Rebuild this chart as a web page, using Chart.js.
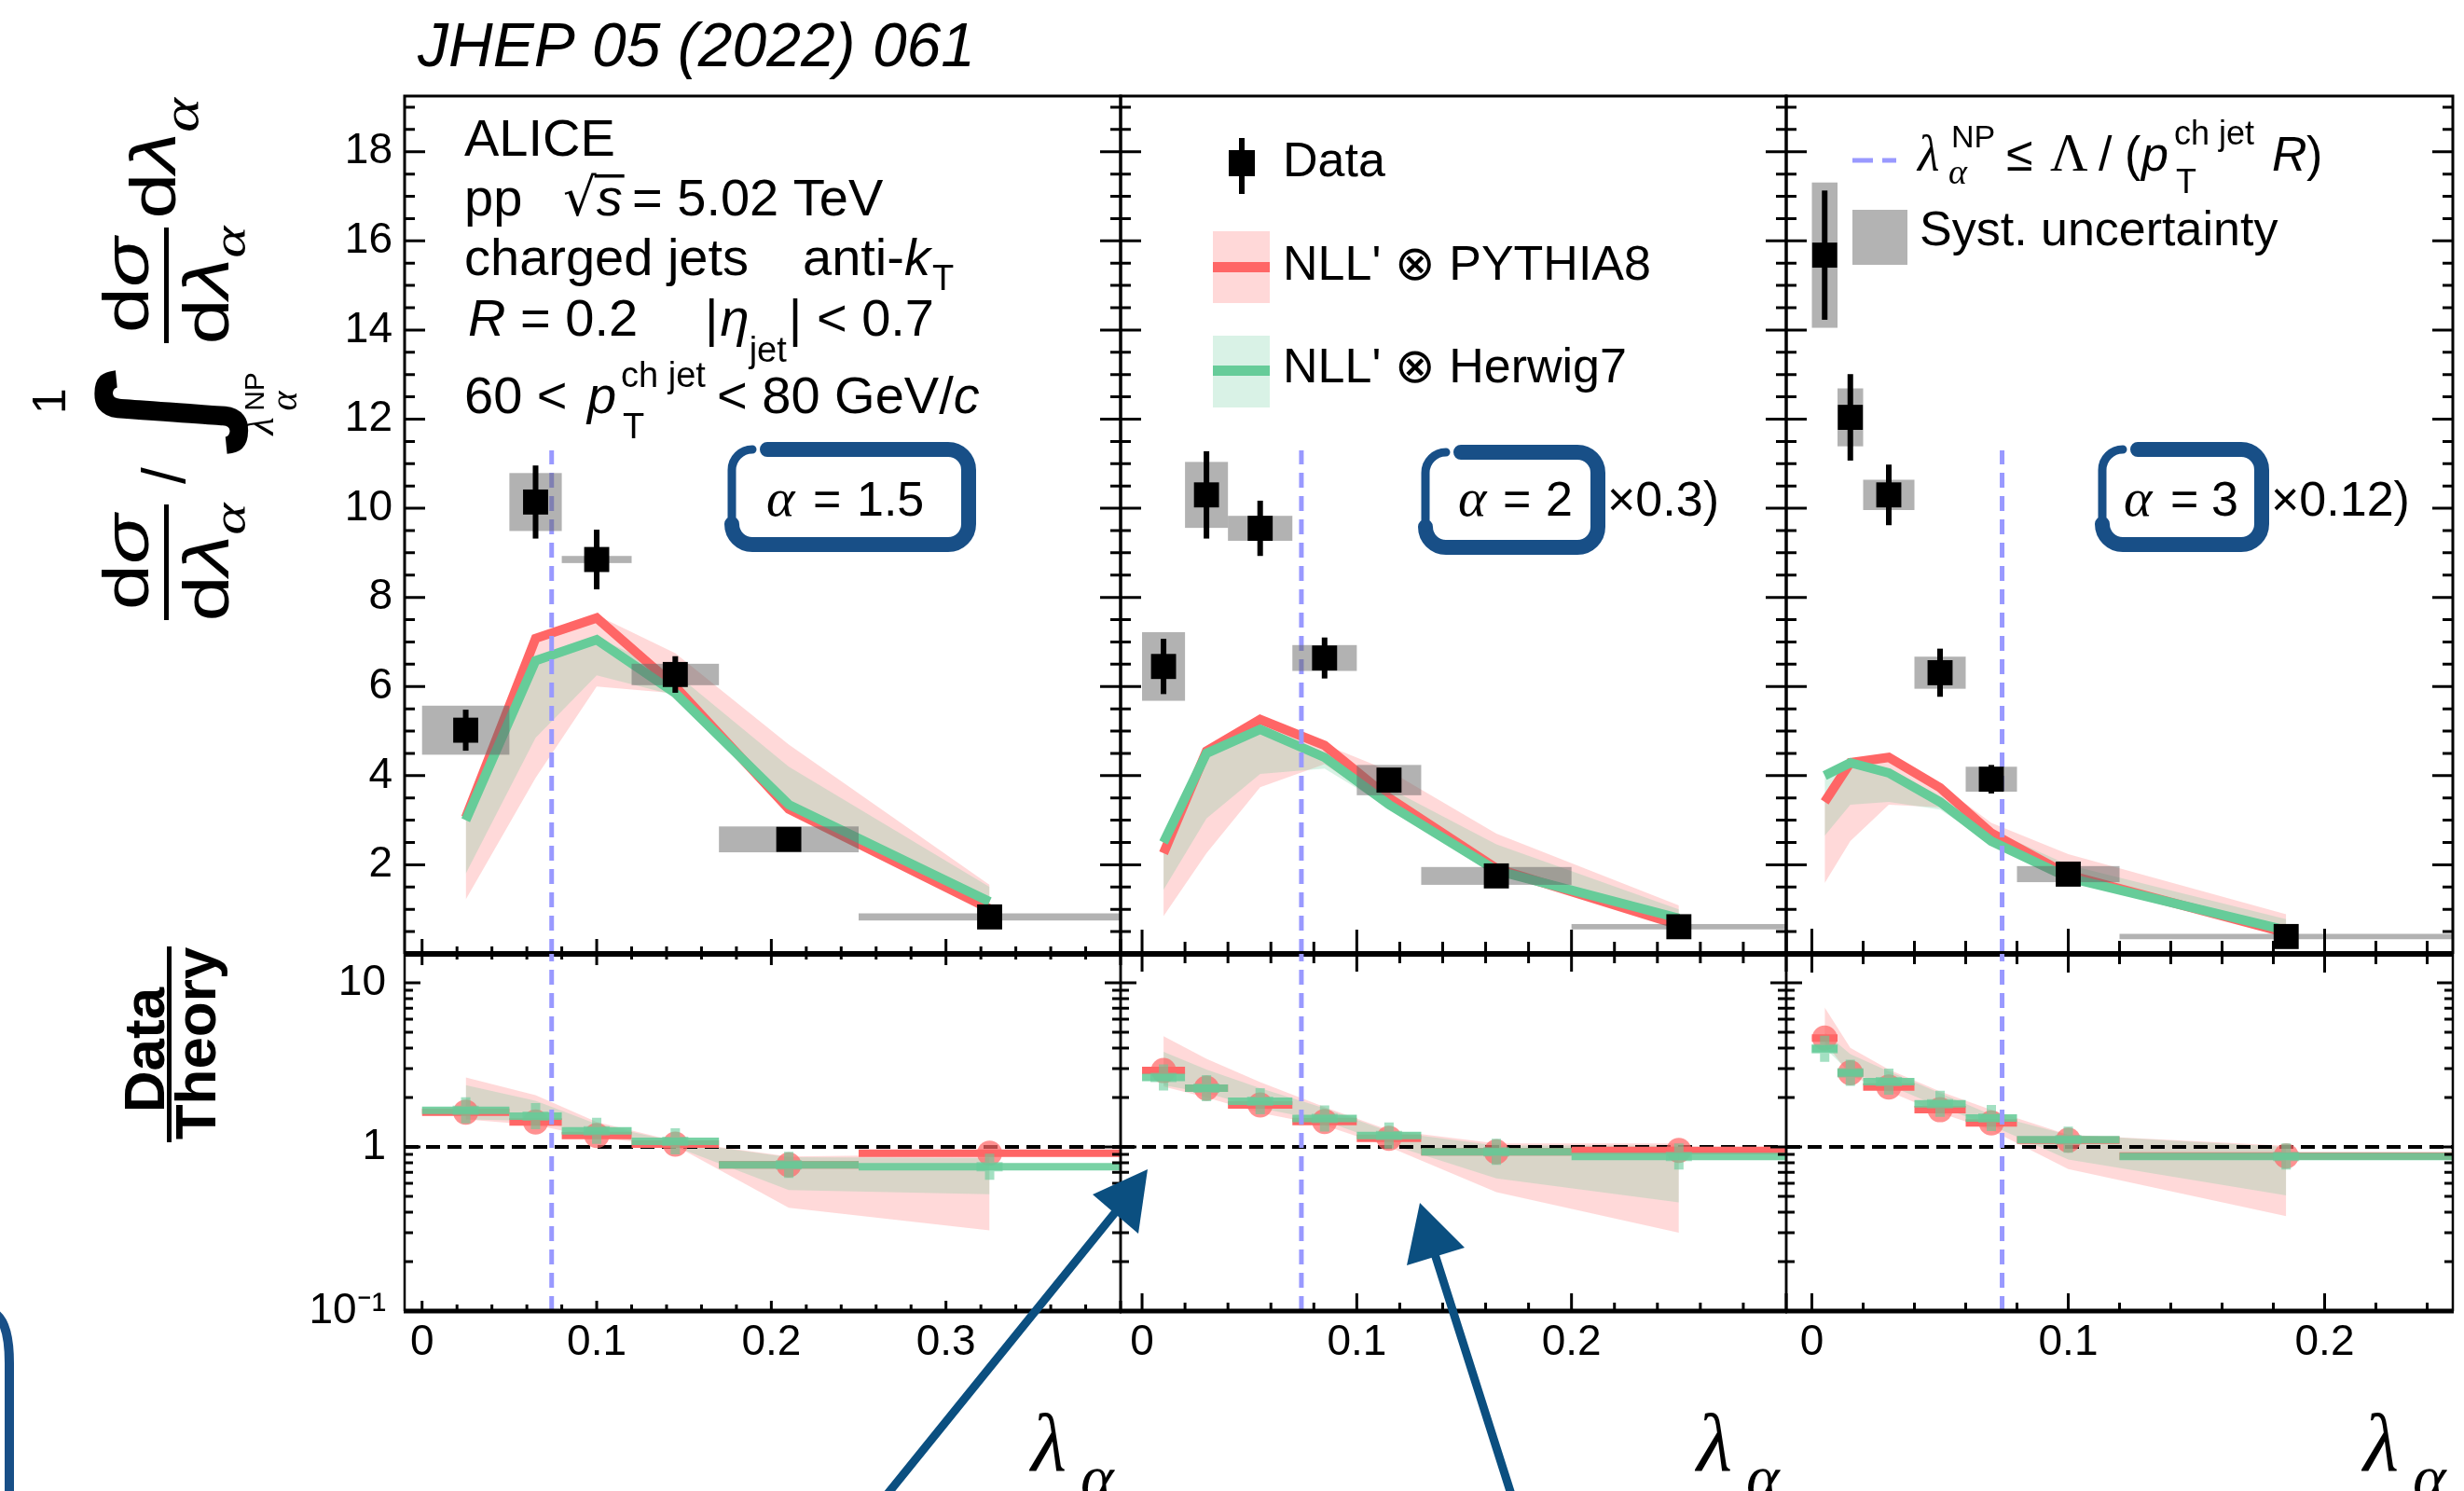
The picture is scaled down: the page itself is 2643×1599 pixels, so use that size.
<!DOCTYPE html>
<html><head><meta charset="utf-8">
<script src="https://cdn.jsdelivr.net/npm/chart.js@4.4.1/dist/chart.umd.min.js"></script>
<style>
html,body{margin:0;padding:0;background:#fff;}
#wrap{position:relative;width:2643px;height:1599px;overflow:hidden;background:#fff;}
#wrap canvas{position:absolute;left:0;top:0;}
</style></head><body><div id="wrap">
<canvas id="c1" width="2643" height="1599"></canvas>
<canvas id="c2" width="2643" height="1599"></canvas>
<canvas id="c3" width="2643" height="1599"></canvas>
<canvas id="c4" width="2643" height="1599"></canvas>
<canvas id="c5" width="2643" height="1599"></canvas>
<canvas id="c6" width="2643" height="1599"></canvas>
</div>
<script>
// ================= DATA =================
// ---- alpha = 1.5 ----
const a15_binLo = [0, 0.05, 0.08, 0.12, 0.17, 0.25];
const a15_binHi = [0.05, 0.08, 0.12, 0.17, 0.25, 0.40];
const a15_x     = [0.025, 0.065, 0.10, 0.145, 0.21, 0.325];
const a15_data  = [5.02, 10.14, 8.85, 6.27, 2.57, 0.83];
const a15_stat  = [0.46, 0.82, 0.67, 0.41, 0.10, 0.05];
const a15_syst  = [0.55, 0.65, 0.08, 0.24, 0.29, 0.08];
const a15_pyth   = [3.06, 7.08, 7.54, 6.00, 3.25, 1.01];
const a15_pythLo = [1.22, 3.95, 6.00, 5.85, 3.20, 1.00];
const a15_pythHi = [3.10, 7.10, 7.60, 6.75, 4.70, 1.55];
const a15_herw   = [3.00, 6.58, 7.05, 5.85, 3.35, 1.17];
const a15_herwLo = [1.80, 4.85, 6.25, 5.80, 3.30, 1.10];
const a15_herwHi = [3.00, 6.60, 7.10, 6.30, 4.20, 1.50];
const a15_rPyth   = [1.63, 1.42, 1.175, 1.04, 0.777, 0.915];
const a15_rHerw   = [1.67, 1.54, 1.254, 1.081, 0.777, 0.757];
const a15_rPythLo = [1.47, 1.36, 1.135, 1.017, 0.426, 0.31];
const a15_rPythHi = [2.65, 2.07, 1.42, 1.086, 0.874, 0.905];
const a15_rHerwLo = [1.47, 1.44, 1.185, 1.004, 0.546, 0.514];
const a15_rHerwHi = [2.38, 1.91, 1.38, 1.077, 0.866, 0.855];

// ---- alpha = 2 (x0.3) ----
const a2_binLo = [0, 0.02, 0.04, 0.07, 0.10, 0.13, 0.20];
const a2_binHi = [0.02, 0.04, 0.07, 0.10, 0.13, 0.20, 0.30];
const a2_x     = [0.01, 0.03, 0.055, 0.085, 0.115, 0.165, 0.25];
const a2_data  = [6.45, 10.30, 9.55, 6.64, 3.90, 1.75, 0.61];
const a2_stat  = [0.62, 0.98, 0.62, 0.46, 0.20, 0.10, 0.05];
const a2_syst  = [0.77, 0.74, 0.28, 0.29, 0.34, 0.20, 0.06];
const a2_pyth   = [2.26, 4.55, 5.26, 4.68, 3.50, 1.92, 0.65];
const a2_pythLo = [0.85, 2.26, 3.74, 4.26, 3.30, 1.80, 0.65];
const a2_pythHi = [2.26, 4.55, 5.33, 4.70, 4.11, 2.70, 1.09];
const a2_herw   = [2.50, 4.50, 5.04, 4.41, 3.35, 1.87, 0.80];
const a2_herwLo = [1.44, 3.04, 4.04, 4.16, 3.28, 1.80, 0.70];
const a2_herwHi = [2.50, 4.50, 5.04, 4.41, 3.72, 2.46, 1.00];
const a2_rPyth   = [2.92, 2.28, 1.80, 1.43, 1.13, 0.933, 0.953];
const a2_rHerw   = [2.65, 2.28, 1.90, 1.49, 1.175, 0.933, 0.874];
const a2_rPythLo = [2.33, 2.00, 1.61, 1.35, 1.00, 0.53, 0.30];
const a2_rPythHi = [4.73, 3.44, 2.48, 1.75, 1.265, 1.049, 1.049];
const a2_rHerwLo = [2.38, 2.13, 1.72, 1.44, 1.04, 0.644, 0.459];
const a2_rHerwHi = [3.80, 2.96, 2.28, 1.72, 1.24, 1.02, 1.02];

// ---- alpha = 3 (x0.12) ----
const a3_binLo = [0, 0.01, 0.02, 0.04, 0.06, 0.08, 0.12];
const a3_binHi = [0.01, 0.02, 0.04, 0.06, 0.08, 0.12, 0.25];
const a3_x     = [0.005, 0.015, 0.03, 0.05, 0.07, 0.10, 0.185];
const a3_data  = [15.68, 12.04, 10.30, 6.31, 3.92, 1.79, 0.39];
const a3_stat  = [1.45, 0.97, 0.68, 0.54, 0.32, 0.10, 0.05];
const a3_syst  = [1.63, 0.65, 0.34, 0.36, 0.28, 0.18, 0.06];
const a3_pyth   = [3.41, 4.29, 4.41, 3.73, 2.71, 1.77, 0.47];
const a3_pythLo = [1.59, 2.53, 3.35, 3.29, 2.48, 1.66, 0.42];
const a3_pythHi = [3.45, 4.33, 4.47, 3.80, 2.94, 2.24, 0.89];
const a3_herw   = [4.00, 4.29, 4.06, 3.41, 2.53, 1.71, 0.53];
const a3_herwLo = [2.65, 3.35, 3.41, 3.24, 2.48, 1.69, 0.47];
const a3_herwHi = [4.00, 4.29, 4.06, 3.44, 2.77, 2.00, 0.78];
const a3_rPyth   = [4.61, 2.83, 2.32, 1.685, 1.40, 1.10, 0.88];
const a3_rHerw   = [3.96, 2.83, 2.50, 1.83, 1.50, 1.105, 0.874];
const a3_rPythLo = [4.37, 2.71, 2.18, 1.61, 1.265, 0.734, 0.379];
const a3_rPythHi = [7.06, 4.01, 2.96, 2.18, 1.68, 1.185, 1.017];
const a3_rHerwLo = [4.01, 2.83, 2.38, 1.75, 1.35, 0.837, 0.507];
const a3_rHerwHi = [4.98, 3.67, 2.89, 2.13, 1.57, 1.185, 1.00];

// NP boundary lambda_alpha^NP and its drawn height
const NP_CUT = [0.0742, 0.0742, 0.0742];
const NP_TOP = 11.3;

// axis ranges and tick labels
const X_RANGE_A15 = [-0.01, 0.40];
const X_RANGE_A2  = [-0.01, 0.30];
const X_RANGE_A3  = [-0.01, 0.25];
const X_TICKS_A15 = [0, 0.1, 0.2, 0.3];
const X_TICKS_A2  = [0, 0.1, 0.2];
const X_TICKS_A3  = [0, 0.1, 0.2];
const Y_RANGE_TOP = [0, 19.25];
const Y_TICKS_TOP = [2, 4, 6, 8, 10, 12, 14, 16, 18];
const Y_RANGE_RATIO = [0.1, 15];
const RATIO_TICKS = [0.1, 1, 10];
const RATIO_TICK_LABELS = ['10\u207B\u00B9', '1', '10'];

// ================= STYLE / LAYOUT =================
const W = 2643, H = 1599;
const TOPY = {t:103, b:1023}, RATY = {t:1023, b:1406};
const Y_AXIS_W = 200, X_AXIS_H = 100;
const RED = '#ff6666', GREEN = '#66cc99';
const PINK_BAND = 'rgba(255,102,102,0.25)', GREEN_BAND = 'rgba(102,204,153,0.25)';
const SYST = 'rgba(102,102,102,0.5)';
const NPBLUE = '#9999ff';
const BOXBLUE = '#184f87', ARROWBLUE = '#0b4f80';
const SANS = '"Liberation Sans", Arial, Helvetica, sans-serif';
const SERIF = '"Liberation Serif", "Times New Roman", serif';
function F(size, style){ return (style ? style + ' ' : '') + size + 'px ' + SANS; }
function FS(size, style){ return (style ? style + ' ' : '') + size + 'px ' + SERIF; }

const PANELS = [
  {area:[434,1202], xr:X_RANGE_A15, xTicks:X_TICKS_A15, topXb:[16,8], ratXt:[12,6], ratXb:[11,7],
   d:{lo:a15_binLo, hi:a15_binHi, x:a15_x, data:a15_data, stat:a15_stat, syst:a15_syst,
      pyth:a15_pyth, pythLo:a15_pythLo, pythHi:a15_pythHi, herw:a15_herw, herwLo:a15_herwLo, herwHi:a15_herwHi,
      rPyth:a15_rPyth, rHerw:a15_rHerw, rPythLo:a15_rPythLo, rPythHi:a15_rPythHi, rHerwLo:a15_rHerwLo, rHerwHi:a15_rHerwHi}},
  {area:[1202,1916], xr:X_RANGE_A2, xTicks:X_TICKS_A2, topXb:[26,13], ratXt:[19,10], ratXb:[19,9],
   d:{lo:a2_binLo, hi:a2_binHi, x:a2_x, data:a2_data, stat:a2_stat, syst:a2_syst,
      pyth:a2_pyth, pythLo:a2_pythLo, pythHi:a2_pythHi, herw:a2_herw, herwLo:a2_herwLo, herwHi:a2_herwHi,
      rPyth:a2_rPyth, rHerw:a2_rHerw, rPythLo:a2_rPythLo, rPythHi:a2_rPythHi, rHerwLo:a2_rHerwLo, rHerwHi:a2_rHerwHi}},
  {area:[1916,2631], xr:X_RANGE_A3, xTicks:X_TICKS_A3, topXb:[27,14], ratXt:[20,11], ratXb:[19,9],
   d:{lo:a3_binLo, hi:a3_binHi, x:a3_x, data:a3_data, stat:a3_stat, syst:a3_syst,
      pyth:a3_pyth, pythLo:a3_pythLo, pythHi:a3_pythHi, herw:a3_herw, herwLo:a3_herwLo, herwHi:a3_herwHi,
      rPyth:a3_rPyth, rHerw:a3_rHerw, rPythLo:a3_rPythLo, rPythHi:a3_rPythHi, rHerwLo:a3_rHerwLo, rHerwHi:a3_rHerwHi}}
];

Chart.defaults.font.family = SANS;

function pts(xs, ys){ return xs.map((x,k)=>({x:x, y:ys[k]})); }
function barPts(lo, hi, v){ const o=[]; lo.forEach((l,k)=>{ o.push({x:l,y:v[k]},{x:hi[k],y:v[k]},{x:hi[k],y:null}); }); return o; }
const NOLINE = 'rgba(0,0,0,0)';

function xScale(P, show){
  return {type:'linear', min:P.xr[0], max:P.xr[1], display:show, position:'bottom',
    grid:{display:false, drawTicks:false}, border:{display:false},
    ticks:{autoSkip:false, maxRotation:0, minRotation:0, padding:7, color:'#000', font:{family:SANS, size:46},
      callback:(v)=> (v===0 ? '0' : (+v).toFixed(1))},
    afterBuildTicks:(s)=>{ s.ticks = P.xTicks.map(v=>({value:v})); },
    afterFit:(s)=>{ s.height = show ? X_AXIS_H : 0; }};
}
function yTop(show){
  return {type:'linear', min:Y_RANGE_TOP[0], max:Y_RANGE_TOP[1], display:show, position:'left',
    grid:{display:false, drawTicks:false}, border:{display:false},
    ticks:{autoSkip:false, padding:13, color:'#000', font:{family:SANS, size:46}, callback:(v)=>String(v)},
    afterBuildTicks:(s)=>{ s.ticks = Y_TICKS_TOP.map(v=>({value:v})); },
    afterFit:(s)=>{ s.width = show ? Y_AXIS_W : 0; }};
}
function yRatio(show){
  return {type:'logarithmic', min:Y_RANGE_RATIO[0], max:Y_RANGE_RATIO[1], display:show, position:'left',
    grid:{display:false, drawTicks:false}, border:{display:false},
    ticks:{autoSkip:false, padding:20, color:'#000', font:{family:SANS, size:46},
      callback:(v)=>{ const i = RATIO_TICKS.indexOf(v); return i>=0 ? RATIO_TICK_LABELS[i] : ''; }},
    afterBuildTicks:(s)=>{ s.ticks = RATIO_TICKS.map(v=>({value:v})); },
    afterFit:(s)=>{ s.width = show ? Y_AXIS_W : 0; }};
}

function seq(from, to, step, skipEvery){
  const o=[]; for(let k=0; from + k*step <= to + 1e-9; k++){ if(skipEvery && k%skipEvery===0) continue; o.push(+(from+k*step).toFixed(6)); } return o;
}

function decorPlugin(kind, P, idx){
  return {
    id:'decor',
    beforeDatasetDraw(chart, args){
      const ds = chart.data.datasets[args.index];
      if (ds._role !== 'data') return;
      const ctx = chart.ctx, xs = chart.scales.x, ys = chart.scales.y, a = chart.chartArea, d = P.d;
      ctx.save();
      ctx.beginPath(); ctx.rect(a.left, a.top, a.right-a.left, a.bottom-a.top); ctx.clip();
      ctx.fillStyle = SYST;
      d.x.forEach((x,k)=>{
        const x0 = xs.getPixelForValue(d.lo[k]), x1 = xs.getPixelForValue(d.hi[k]);
        const y0 = ys.getPixelForValue(d.data[k]+d.syst[k]), y1 = ys.getPixelForValue(d.data[k]-d.syst[k]);
        ctx.fillRect(x0, y0, x1-x0, y1-y0);
      });
      ctx.fillStyle = '#000';
      d.x.forEach((x,k)=>{
        const px = xs.getPixelForValue(x);
        const y0 = ys.getPixelForValue(d.data[k]+d.stat[k]), y1 = ys.getPixelForValue(d.data[k]-d.stat[k]);
        ctx.fillRect(px-3, y0, 6, y1-y0);
      });
      ctx.restore();
    },
    afterDraw(chart){
      const ctx = chart.ctx, xs = chart.scales.x, ys = chart.scales.y, a = chart.chartArea;
      ctx.save(); ctx.strokeStyle='#000'; ctx.lineCap='butt';
      ctx.lineWidth = 3;
      ctx.beginPath();
      const xmax = P.xr[1];
      const xMaj = seq(0, xmax, 0.1), xMin = seq(0, xmax, 0.02, 5);
      if (kind==='top'){
        const yMaj = seq(0, 18, 2), yMin = seq(0, 19.2, 0.5, 4);
        for (const v of yMaj){ const p=ys.getPixelForValue(v); ctx.moveTo(a.left,p); ctx.lineTo(a.left+22,p); ctx.moveTo(a.right,p); ctx.lineTo(a.right-22,p); }
        for (const v of yMin){ const p=ys.getPixelForValue(v); ctx.moveTo(a.left,p); ctx.lineTo(a.left+11,p); ctx.moveTo(a.right,p); ctx.lineTo(a.right-11,p); }
        for (const v of xMaj){ const p=xs.getPixelForValue(v); ctx.moveTo(p,a.bottom); ctx.lineTo(p,a.bottom-P.topXb[0]); }
        for (const v of xMin){ const p=xs.getPixelForValue(v); ctx.moveTo(p,a.bottom); ctx.lineTo(p,a.bottom-P.topXb[1]); }
      } else {
        const yMaj = [0.1, 1, 10], yMin = [0.2,0.3,0.4,0.5,0.6,0.7,0.8,0.9,2,3,4,5,6,7,8,9];
        for (const v of yMaj){ const p=ys.getPixelForValue(v); ctx.moveTo(a.left,p); ctx.lineTo(a.left+17,p); ctx.moveTo(a.right,p); ctx.lineTo(a.right-17,p); }
        for (const v of yMin){ const p=ys.getPixelForValue(v); ctx.moveTo(a.left,p); ctx.lineTo(a.left+9,p); ctx.moveTo(a.right,p); ctx.lineTo(a.right-9,p); }
        for (const v of xMaj){ const p=xs.getPixelForValue(v); ctx.moveTo(p,a.bottom); ctx.lineTo(p,a.bottom-P.ratXb[0]); ctx.moveTo(p,a.top); ctx.lineTo(p,a.top+P.ratXt[0]); }
        for (const v of xMin){ const p=xs.getPixelForValue(v); ctx.moveTo(p,a.bottom); ctx.lineTo(p,a.bottom-P.ratXb[1]); ctx.moveTo(p,a.top); ctx.lineTo(p,a.top+P.ratXt[1]); }
      }
      ctx.stroke();
      // frame
      if (kind==='top'){
        ctx.lineWidth = 3; ctx.beginPath();
        ctx.moveTo(a.left, a.bottom); ctx.lineTo(a.left, a.top); ctx.lineTo(a.right, a.top); ctx.lineTo(a.right, a.bottom); ctx.stroke();
        ctx.lineWidth = 6; ctx.beginPath(); ctx.moveTo(a.left-1, a.bottom); ctx.lineTo(a.right+1, a.bottom); ctx.stroke();
      } else {
        ctx.lineWidth = 2.5; ctx.beginPath();
        ctx.moveTo(a.left, a.top); ctx.lineTo(a.left, a.bottom); ctx.moveTo(a.right, a.top); ctx.lineTo(a.right, a.bottom); ctx.stroke();
        ctx.lineWidth = 5; ctx.beginPath(); ctx.moveTo(a.left-1, a.bottom); ctx.lineTo(a.right+1, a.bottom); ctx.stroke();
      }
      ctx.restore();
    }
  };
}

function baseOptions(P, yr, scales, showX, showY){
  return {responsive:false, maintainAspectRatio:false, animation:false, devicePixelRatio:1, events:[],
    layout:{autoPadding:false, padding:{left:P.area[0] - (showY ? Y_AXIS_W : 0), right:W-P.area[1], top:yr.t, bottom:H-yr.b-(showX ? X_AXIS_H : 0)}},
    plugins:{legend:{display:false}, tooltip:{enabled:false}, title:{display:false}},
    elements:{line:{tension:0, borderJoinStyle:'miter', borderCapStyle:'butt'}},
    scales:scales};
}

function topChart(id, P, idx, extraPlugins){
  const d = P.d;
  const datasets = [
    {data:pts(d.x,d.pythHi), fill:'+1', backgroundColor:PINK_BAND, borderColor:NOLINE, borderWidth:0, pointRadius:0, order:20},
    {data:pts(d.x,d.pythLo), fill:false, borderColor:NOLINE, borderWidth:0, pointRadius:0, order:20},
    {data:pts(d.x,d.herwHi), fill:'+1', backgroundColor:GREEN_BAND, borderColor:NOLINE, borderWidth:0, pointRadius:0, order:19},
    {data:pts(d.x,d.herwLo), fill:false, borderColor:NOLINE, borderWidth:0, pointRadius:0, order:19},
    {data:pts(d.x,d.pyth), fill:false, borderColor:RED, borderWidth:10, pointRadius:0, order:10},
    {data:pts(d.x,d.herw), fill:false, borderColor:GREEN, borderWidth:10, pointRadius:0, order:9},
    {data:[{x:NP_CUT[idx],y:0},{x:NP_CUT[idx],y:NP_TOP}], fill:false, borderColor:NPBLUE, borderWidth:5, borderDash:[16,9], pointRadius:0, order:8},
    {_role:'data', data:pts(d.x,d.data), showLine:false, pointStyle:'rect', pointRadius:19, backgroundColor:'#000', borderColor:'#000', borderWidth:0, order:1}
  ];
  const showY = idx===0;
  return new Chart(document.getElementById(id), {type:'line', data:{datasets},
    options: baseOptions(P, TOPY, {x:xScale(P,false), y:yTop(showY)}, false, showY),
    plugins:[decorPlugin('top', P, idx)].concat(extraPlugins||[])});
}

function ratioChart(id, P, idx, extraPlugins){
  const d = P.d;
  const datasets = [
    {data:pts(d.x,d.rPythHi), fill:'+1', backgroundColor:PINK_BAND, borderColor:NOLINE, borderWidth:0, pointRadius:0, order:20},
    {data:pts(d.x,d.rPythLo), fill:false, borderColor:NOLINE, borderWidth:0, pointRadius:0, order:20},
    {data:pts(d.x,d.rHerwHi), fill:'+1', backgroundColor:GREEN_BAND, borderColor:NOLINE, borderWidth:0, pointRadius:0, order:19},
    {data:pts(d.x,d.rHerwLo), fill:false, borderColor:NOLINE, borderWidth:0, pointRadius:0, order:19},
    {data:[{x:P.xr[0],y:1},{x:P.xr[1],y:1}], fill:false, borderColor:'#000', borderWidth:4, borderDash:[15,8], pointRadius:0, order:15},
    {data:barPts(d.lo,d.hi,d.rPyth), fill:false, borderColor:RED, borderWidth:8, pointRadius:0, spanGaps:false, order:12},
    {data:pts(d.x,d.rPyth), showLine:false, pointStyle:'circle', pointRadius:13.5, backgroundColor:'rgba(255,102,102,0.72)', borderWidth:0, order:11},
    {data:barPts(d.lo,d.hi,d.rHerw), fill:false, borderColor:'rgba(102,204,153,0.88)', borderWidth:8, pointRadius:0, spanGaps:false, order:10},
    {data:pts(d.x,d.rHerw), showLine:false, pointStyle:'cross', pointRadius:14, borderColor:'rgba(102,204,153,0.6)', borderWidth:10, order:9},
    {data:[{x:NP_CUT[idx],y:Y_RANGE_RATIO[0]},{x:NP_CUT[idx],y:Y_RANGE_RATIO[1]}], fill:false, borderColor:NPBLUE, borderWidth:5, borderDash:[16,9], pointRadius:0, order:8}
  ];
  const showY = idx===0;
  return new Chart(document.getElementById(id), {type:'line', data:{datasets},
    options: baseOptions(P, RATY, {x:xScale(P,true), y:yRatio(showY)}, true, showY),
    plugins:[decorPlugin('ratio', P, idx)].concat(extraPlugins||[])});
}

// ================= ANNOTATIONS =================
function txt(ctx, t, font, x, y, align){ ctx.font=font; ctx.textAlign=align||'left'; ctx.textBaseline='alphabetic'; ctx.fillText(t,x,y); return x + ctx.measureText(t).width; }
function rotRuns(ctx, runs, bx, cy, sx){
  sx = sx || 1;
  let total=0; for (const r of runs){ ctx.font=r.f; r._w = ctx.measureText(r.t).width*sx; total += r._w; }
  let y = cy + total/2;
  for (const r of runs){ ctx.save(); ctx.translate(bx + (r.dy||0), y); ctx.rotate(-Math.PI/2); ctx.scale(sx,1); ctx.font=r.f; ctx.textAlign='left'; ctx.textBaseline='alphabetic'; ctx.fillText(r.t,0,0); ctx.restore(); y -= r._w; }
}
function handBox(ctx, x, y, w, h){
  const r = 22;
  ctx.save(); ctx.strokeStyle = BOXBLUE; ctx.lineCap='round'; ctx.lineJoin='round';
  ctx.lineWidth = 16; ctx.beginPath();
  ctx.moveTo(x+38, y); ctx.lineTo(x+w-r, y); ctx.arcTo(x+w, y, x+w, y+r, r);
  ctx.lineTo(x+w, y+h-r); ctx.arcTo(x+w, y+h, x+w-r, y+h, r);
  ctx.lineTo(x+r, y+h); ctx.arcTo(x, y+h, x, y+h-r, r); ctx.stroke();
  ctx.lineWidth = 9; ctx.beginPath(); ctx.moveTo(x, y+h-r); ctx.lineTo(x, y+r); ctx.arcTo(x, y, x+r, y, r); ctx.stroke();
  ctx.restore();
}

const annotations = {
  id:'annotations',
  afterDraw(chart){
    const ctx = chart.ctx;
    ctx.save(); ctx.fillStyle='#000';
    // journal reference
    txt(ctx, 'JHEP 05 (2022) 061', F(66,'italic'), 448, 71);

    // ALICE label block
    txt(ctx, 'ALICE', F(56), 498, 167);
    txt(ctx, 'pp', F(56), 498, 231);
    let xa = txt(ctx, '\u221A', '56px "DejaVu Sans", sans-serif', 604, 231);
    let xb = txt(ctx, 's', F(56,'italic'), xa, 231);
    ctx.fillRect(xa-2, 187, xb-xa+4, 3.5);
    txt(ctx, '= 5.02 TeV', F(56), 678, 231);
    txt(ctx, 'charged jets', F(56), 498, 295);
    let xc = txt(ctx, 'anti-', F(56), 861, 295);
    xc = txt(ctx, 'k', F(56,'italic'), xc, 295);
    txt(ctx, 'T', F(38), xc+2, 311);
    let xr = txt(ctx, 'R', F(56,'italic'), 502, 360);
    txt(ctx, ' = 0.2', F(56), xr, 360);
    let xe = txt(ctx, '|', F(56), 756, 360);
    xe = txt(ctx, '\u03B7', F(56,'italic'), xe+2, 360);
    xe = txt(ctx, 'jet', F(38), xe, 388);
    txt(ctx, '| < 0.7', F(56), xe+2, 360);
    txt(ctx, '60 <', F(56), 498, 443);
    txt(ctx, 'p', F(56,'italic'), 630, 443);
    txt(ctx, 'ch jet', F(38), 666, 415);
    txt(ctx, 'T', F(38), 668, 470);
    let xg = txt(ctx, '< 80 GeV/', F(56), 769, 443);
    txt(ctx, 'c', F(56,'italic'), xg, 443);

    // legend (middle panel)
    ctx.fillStyle='#000'; ctx.fillRect(1318, 161, 28, 28); ctx.fillRect(1329, 148, 6, 60);
    txt(ctx, 'Data', F(52), 1376, 189);
    ctx.fillStyle='rgb(255,216,216)'; ctx.fillRect(1301, 248, 61, 77);
    ctx.fillStyle=RED; ctx.fillRect(1301, 281, 61, 11);
    ctx.fillStyle='#000'; txt(ctx, 'NLL\' \u2297 PYTHIA8', F(52), 1376, 300);
    ctx.fillStyle='rgb(217,242,230)'; ctx.fillRect(1301, 360, 61, 77);
    ctx.fillStyle=GREEN; ctx.fillRect(1301, 392, 61, 11);
    ctx.fillStyle='#000'; txt(ctx, 'NLL\' \u2297 Herwig7', F(52), 1376, 410);

    // legend (right panel)
    ctx.save(); ctx.strokeStyle=NPBLUE; ctx.lineWidth=5; ctx.setLineDash([22,10]);
    ctx.beginPath(); ctx.moveTo(1987,172); ctx.lineTo(2034,172); ctx.stroke(); ctx.restore();
    txt(ctx, '\u03BB', FS(54,'italic'), 2057, 183);
    txt(ctx, '\u03B1', FS(38,'italic'), 2090, 197);
    txt(ctx, 'NP', F(34), 2093, 158);
    txt(ctx, '\u2264', F(52), 2152, 183);
    txt(ctx, '\u039B', FS(56), 2199, 183);
    txt(ctx, '/', F(52), 2251, 183);
    txt(ctx, '(', F(52), 2279, 183);
    txt(ctx, 'p', F(52,'italic'), 2297, 183);
    txt(ctx, 'ch jet', F(36), 2332, 155);
    txt(ctx, 'T', F(36), 2334, 207);
    txt(ctx, 'R', F(52,'italic'), 2437, 183);
    txt(ctx, ')', F(52), 2474, 183);
    ctx.fillStyle='rgb(179,179,179)'; ctx.fillRect(1987, 225, 59, 59);
    ctx.fillStyle='#000'; txt(ctx, 'Syst. uncertainty', F(52), 2059, 263);

    // alpha labels
    txt(ctx, '\u03B1', FS(58,'italic'), 822, 553); txt(ctx, '=', F(52), 872, 553); txt(ctx, '1.5', F(52), 919, 553);
    txt(ctx, '\u03B1', FS(58,'italic'), 1564, 553); txt(ctx, '=', F(52), 1612, 553); txt(ctx, '2', F(52), 1658, 553);
    txt(ctx, '\u00D70.3)', F(52), 1724, 553);
    txt(ctx, '\u03B1', FS(58,'italic'), 2278, 553); txt(ctx, '=', F(52), 2328, 553); txt(ctx, '3', F(52), 2372, 553);
    txt(ctx, '\u00D70.12)', F(52), 2436, 553);

    // x-axis titles
    for (const R of [1202, 1916, 2631]){
      txt(ctx, '\u03BB', FS(88,'italic'), R-96, 1577);
      txt(ctx, '\u03B1', FS(68,'italic'), R-43, 1607);
    }

    // y-axis title of upper pads
    const SX = 1.3;
    const frac = (cy)=>{
      rotRuns(ctx, [{t:'d', f:F(68)}, {t:'\u03C3', f:F(68,'italic')}], 159, cy, SX);
      ctx.fillRect(176, cy-62, 5, 124);
      rotRuns(ctx, [{t:'d', f:F(68)}, {t:'\u03BB', f:F(68,'italic')}, {t:'\u03B1', f:FS(50,'italic'), dy:18}], 245, cy, SX);
    };
    frac(603);
    rotRuns(ctx, [{t:'/', f:F(64)}], 198, 510);
    rotRuns(ctx, [{t:'\u222B', f:'bold 168px "DejaVu Sans", sans-serif'}], 228, 438);
    rotRuns(ctx, [{t:'1', f:F(50)}], 70, 430);
    rotRuns(ctx, [{t:'\u03BB', f:FS(44,'italic')}], 293, 457);
    rotRuns(ctx, [{t:'\u03B1', f:FS(40,'italic')}], 318, 430);
    rotRuns(ctx, [{t:'NP', f:F(30)}], 283, 420);
    frac(306);
    rotRuns(ctx, [{t:'d', f:F(68)}, {t:'\u03BB', f:F(68,'italic')}, {t:'\u03B1', f:FS(54,'italic'), dy:24}], 188, 170, SX);

    // y-axis title of ratio pads
    rotRuns(ctx, [{t:'Data', f:F(62,'bold')}], 176, 1126);
    ctx.fillRect(179, 1015, 5, 210);
    rotRuns(ctx, [{t:'Theory', f:F(62,'bold')}], 231, 1119);

    // hand-drawn annotations
    handBox(ctx, 785, 482, 254, 102);
    handBox(ctx, 1529, 485, 185, 102);
    handBox(ctx, 2255, 482, 171, 102);
    ctx.strokeStyle = ARROWBLUE; ctx.fillStyle = ARROWBLUE; ctx.lineCap='round';
    ctx.lineWidth = 9;
    ctx.beginPath(); ctx.moveTo(944, 1612); ctx.lineTo(1198, 1298); ctx.stroke();
    ctx.beginPath(); ctx.moveTo(1231, 1254); ctx.lineTo(1172, 1281); ctx.lineTo(1221, 1323); ctx.closePath(); ctx.fill();
    ctx.beginPath(); ctx.moveTo(1624, 1612); ctx.lineTo(1540, 1348); ctx.stroke();
    ctx.beginPath(); ctx.moveTo(1523, 1290); ctx.lineTo(1509, 1357); ctx.lineTo(1571, 1338); ctx.closePath(); ctx.fill();
    ctx.strokeStyle = BOXBLUE; ctx.lineWidth = 10;
    ctx.beginPath(); ctx.moveTo(-12, 1406); ctx.quadraticCurveTo(10, 1410, 10, 1462); ctx.lineTo(10, 1610); ctx.stroke();
    ctx.restore();
  }
};

// ================= BUILD =================
topChart('c1', PANELS[0], 0);
topChart('c2', PANELS[1], 1);
topChart('c3', PANELS[2], 2);
ratioChart('c4', PANELS[0], 0);
ratioChart('c5', PANELS[1], 1);
ratioChart('c6', PANELS[2], 2, [annotations]);
</script></body></html>
